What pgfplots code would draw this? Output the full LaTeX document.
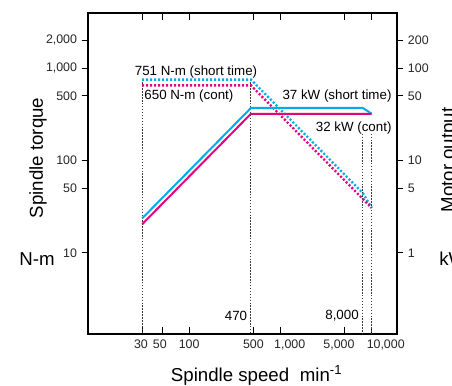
\documentclass[border=0pt]{standalone}
\usepackage{pgfplots}
\pgfplotsset{compat=1.18}
\usepackage{fontspec}
\setmainfont{Liberation Sans}
\definecolor{cyanc}{RGB}{0,172,236}
\definecolor{magc}{RGB}{230,0,126}
\definecolor{vgray}{RGB}{60,60,60}
\begin{document}
\begin{tikzpicture}
\useasboundingbox (-66pt,-38.25pt) rectangle (273pt,250.5pt);
% frame + x ticks + torque curves
\begin{loglogaxis}[at={(0pt,0pt)}, anchor=south west, scale only axis,
  width=231.75pt, height=240.75pt,
  xmin=7.6, xmax=18970, ymin=1.32, ymax=3950,
  xminorticks=false, yminorticks=false,
  axis line style={line width=1pt, black},
  every tick/.style={black, line width=0.75pt},
  tick label style={font=\fontsize{9.3}{11}\selectfont, text=black!85},
  xtick={30,50,100,500,1000,5000,10000},
  xticklabels={{30\hspace*{2pt}},{50\hspace*{4pt}},{100\hspace*{1pt}},500,{\hspace*{13.5pt}1,000},{5,000\hspace*{8pt}},{\hspace*{21pt}10,000}},
  ytick=\empty, tick align=inside, major tick length=5.25pt,
  xticklabel style={yshift=-1pt}]
% vertical reference lines
\addplot[vgray, line width=0.8pt, dash pattern=on 1.1pt off 1.1pt] coordinates {(30,751) (30,1.32)};
\addplot[vgray, line width=0.8pt, dash pattern=on 1.1pt off 1.1pt] coordinates {(470,751) (470,1.32)};
\addplot[vgray, line width=0.8pt, dash pattern=on 1.1pt off 1.1pt] coordinates {(8000,195) (8000,1.32)};
\addplot[vgray, line width=0.8pt, dash pattern=on 1.1pt off 1.1pt] coordinates {(10000,195) (10000,1.32)};
% torque curves
\addplot[cyanc, line width=1.8pt, dash pattern=on 1.5pt off 1.5pt] coordinates {(30,751) (470,751) (8000,44.2) (10000,30.6)};
\addplot[magc, line width=1.8pt, dash pattern=on 1.5pt off 1.5pt] coordinates {(30,650) (470,650) (10000,30.6)};
\node[font=\fontsize{10}{12}\selectfont, anchor=center, inner sep=0pt] at (axis cs:117,900) {751 N-m (short time)};
\node[font=\fontsize{10}{12}\selectfont, anchor=west, inner sep=0pt] at (axis cs:31.5,500) {650 N-m (cont)};
\node[font=\fontsize{10}{12}\selectfont, anchor=east, inner sep=0pt] at (axis cs:16600,500) {37 kW (short time)};
\node[font=\fontsize{10}{12}\selectfont, anchor=east, inner sep=0pt] at (axis cs:16600,226) {32 kW (cont)};
\node[font=\fontsize{10}{12}\selectfont, anchor=east, inner sep=0pt] at (axis cs:430,2.08) {470};
\node[font=\fontsize{10}{12}\selectfont, anchor=east, inner sep=0pt] at (axis cs:7250,2.08) {8,000};
\end{loglogaxis}
% left axis ticks
\begin{loglogaxis}[at={(0pt,0pt)}, anchor=south west, scale only axis,
  width=231.75pt, height=240.75pt,
  xmin=7.6, xmax=18970, ymin=1.32, ymax=3950,
  xminorticks=false, yminorticks=false,
  axis line style={line width=1pt, black},
  every tick/.style={black, line width=0.75pt},
  tick label style={font=\fontsize{9.3}{11}\selectfont, text=black!85},
  hide x axis, axis y line*=left,
  ytick={10,50,100,500,1000,2000},
  yticklabels={10,50,100,500,{1,000},{2,000}},
  tick align=outside, major tick length=4.7pt]
\addplot[draw=none] coordinates {(100,100)};
\end{loglogaxis}
% right axis: power
\begin{loglogaxis}[at={(0pt,0pt)}, anchor=south west, scale only axis,
  width=231.75pt, height=240.75pt,
  xmin=7.6, xmax=18970, ymin=0.132, ymax=395,
  xminorticks=false, yminorticks=false,
  axis line style={line width=1pt, black},
  every tick/.style={black, line width=0.75pt},
  tick label style={font=\fontsize{9.3}{11}\selectfont, text=black!85},
  hide x axis, axis y line*=right,
  ytick={1,5,10,50,100,200},
  yticklabels={1,5,10,50,100,200},
  tick align=outside, major tick length=4.7pt]
\addplot[cyanc, line width=1.5pt] coordinates {(30,2.362) (470,37) (8000,37) (10000,32)};
\addplot[magc, line width=1.5pt] coordinates {(30,2.043) (470,32) (10000,32)};
\end{loglogaxis}
% labels
\node[rotate=90, font=\fontsize{14}{16}\selectfont, anchor=center, inner sep=0pt] at (-37.5pt,132pt) {Spindle torque};
\node[font=\fontsize{14}{16}\selectfont, anchor=center, inner sep=0pt] at (-38.25pt,56.25pt) {N-m};
\node[rotate=90, font=\fontsize{14}{16}\selectfont, anchor=north, inner sep=0pt] at (264.75pt,130.5pt) {Motor output};
\node[font=\fontsize{14}{16}\selectfont, anchor=west, inner sep=0pt] at (263.25pt,56.25pt) {kW};
\node[font=\fontsize{14}{16}\selectfont, anchor=base west, inner sep=0pt] at (62pt,-35.25pt) {Spindle speed\hspace{8pt}min\textsuperscript{-1}};
\end{tikzpicture}
\end{document}
